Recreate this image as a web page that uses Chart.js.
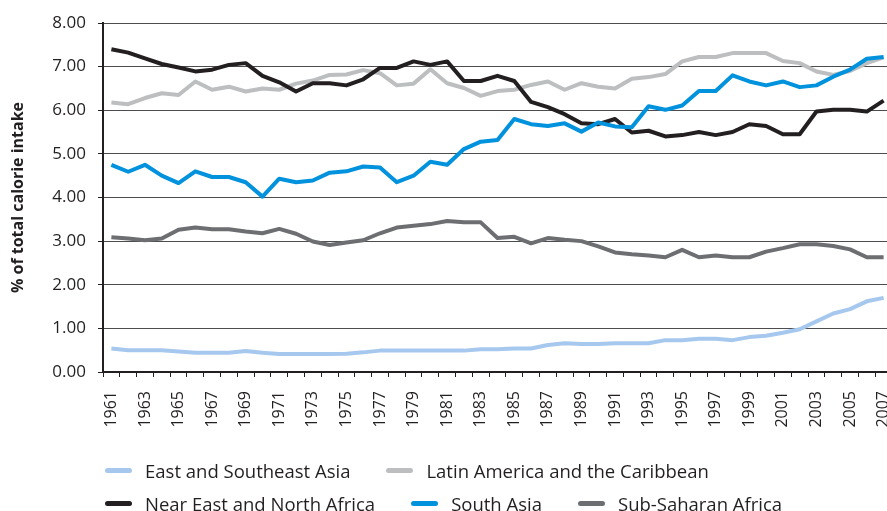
<!DOCTYPE html>
<html>
<head>
<meta charset="utf-8">
<script src="https://cdn.jsdelivr.net/npm/chart.js"></script>
<style>
  html, body { margin: 0; padding: 0; background: #fff; overflow: hidden; }
  #wrap { position: relative; width: 887px; height: 511px; overflow: hidden; }
  #chart { position: absolute; left: 0; top: 0; }
  .legend-row { position: absolute; left: 105px; display: flex; gap: 36px; align-items: center;
    font-family: "Open Sans", sans-serif; font-size: 18.5px; color: #231f20; height: 24px; }
  .legend-item { display: flex; align-items: center; white-space: nowrap; }
  .swatch { width: 27px; height: 5px; border-radius: 3px; margin-right: 13px; }
</style>
</head>
<body>
<div id="wrap">
  <canvas id="chart" width="892" height="511"></canvas>
  <div class="legend-row" id="row1" style="top:458px"></div>
  <div class="legend-row" id="row2" style="top:491px"></div>
</div>
<script>
const years = ['1961','1962','1963','1964','1965','1966','1967','1968','1969','1970',
  '1971','1972','1973','1974','1975','1976','1977','1978','1979','1980',
  '1981','1982','1983','1984','1985','1986','1987','1988','1989','1990',
  '1991','1992','1993','1994','1995','1996','1997','1998','1999','2000',
  '2001','2002','2003','2004','2005','2006','2007'];

const seriesNames = ['East and Southeast Asia', 'Latin America and the Caribbean',
  'Near East and North Africa', 'South Asia', 'Sub-Saharan Africa'];

const eastSoutheastAsia = [0.54, 0.50, 0.50, 0.50, 0.47, 0.44, 0.44, 0.44, 0.48, 0.44,
  0.41, 0.41, 0.41, 0.41, 0.42, 0.45, 0.49, 0.49, 0.49, 0.49,
  0.49, 0.49, 0.52, 0.52, 0.54, 0.54, 0.62, 0.66, 0.64, 0.64,
  0.66, 0.66, 0.66, 0.73, 0.73, 0.76, 0.76, 0.73, 0.80, 0.83,
  0.90, 0.98, 1.16, 1.34, 1.44, 1.62, 1.70];

const latinAmerica = [6.18, 6.14, 6.28, 6.39, 6.35, 6.66, 6.47, 6.54, 6.43, 6.50,
  6.47, 6.61, 6.68, 6.81, 6.82, 6.92, 6.85, 6.57, 6.61, 6.94,
  6.62, 6.51, 6.33, 6.44, 6.47, 6.58, 6.66, 6.47, 6.62, 6.54,
  6.50, 6.72, 6.76, 6.83, 7.12, 7.22, 7.22, 7.31, 7.31, 7.31,
  7.13, 7.08, 6.89, 6.81, 6.90, 7.08, 7.21];

const nearEast = [7.40, 7.32, 7.19, 7.06, 6.98, 6.89, 6.93, 7.04, 7.08, 6.79,
  6.64, 6.43, 6.62, 6.62, 6.57, 6.71, 6.97, 6.97, 7.12, 7.04,
  7.12, 6.67, 6.67, 6.79, 6.67, 6.19, 6.07, 5.91, 5.70, 5.68,
  5.80, 5.49, 5.53, 5.40, 5.43, 5.50, 5.43, 5.50, 5.68, 5.64,
  5.45, 5.45, 5.97, 6.01, 6.01, 5.97, 6.22];

const southAsia = [4.75, 4.59, 4.75, 4.50, 4.33, 4.60, 4.47, 4.47, 4.35, 4.02,
  4.43, 4.35, 4.39, 4.57, 4.60, 4.71, 4.69, 4.35, 4.50, 4.82,
  4.75, 5.11, 5.28, 5.32, 5.80, 5.68, 5.64, 5.70, 5.51, 5.72,
  5.63, 5.61, 6.09, 6.01, 6.11, 6.44, 6.44, 6.80, 6.66, 6.57,
  6.66, 6.53, 6.57, 6.77, 6.93, 7.18, 7.22];

const subSaharanAfrica = [3.09, 3.06, 3.02, 3.06, 3.26, 3.31, 3.27, 3.27, 3.22, 3.18,
  3.28, 3.17, 2.99, 2.91, 2.97, 3.02, 3.18, 3.31, 3.35, 3.39,
  3.46, 3.43, 3.43, 3.07, 3.10, 2.95, 3.07, 3.03, 3.00, 2.88,
  2.74, 2.70, 2.67, 2.63, 2.80, 2.63, 2.67, 2.63, 2.63, 2.76,
  2.84, 2.93, 2.93, 2.89, 2.81, 2.63, 2.63];

const yTicks = [0, 1, 2, 3, 4, 5, 6, 7, 8];

const colors = ['#a6c8ee', '#bcbec0', '#231f20', '#0092dd', '#6d6e71'];
const drawOrder = [1, 5, 3, 2, 4]; // higher = drawn underneath
const allSeries = [eastSoutheastAsia, latinAmerica, nearEast, southAsia, subSaharanAfrica];

const ink = '#231f20';

const datasets = allSeries.map((vals, i) => ({
  label: seriesNames[i],
  data: vals,
  borderColor: colors[i],
  backgroundColor: colors[i],
  borderWidth: 4,
  pointRadius: 0,
  tension: 0,
  fill: false,
  order: drawOrder[i],
  borderJoinStyle: 'round'
}));

new Chart(document.getElementById('chart'), {
  type: 'line',
  data: { labels: years, datasets: datasets },
  options: {
    responsive: false,
    animation: false,
    layout: { padding: { top: 23, left: 0, right: 0, bottom: 0 } },
    plugins: {
      legend: { display: false },
      tooltip: { enabled: false }
    },
    scales: {
      x: {
        type: 'category',
        offset: true,
        afterFit: (scale) => {
          scale.height = 139;
          scale.paddingLeft = 0;
          scale.paddingRight = 0;
        },
        grid: {
          offset: true,
          drawOnChartArea: false,
          drawTicks: true,
          tickLength: 5,
          color: ink,
          lineWidth: 1
        },
        border: { display: true, color: ink, width: 2 },
        ticks: {
          autoSkip: false,
          maxRotation: 90,
          minRotation: 90,
          padding: 14,
          color: ink,
          font: { family: 'Open Sans', size: 16 },
          callback: function (val, idx) { return idx % 2 === 0 ? years[idx] : ''; }
        }
      },
      y: {
        min: yTicks[0],
        max: yTicks[yTicks.length - 1],
        afterFit: (scale) => { scale.width = 103; },
        afterBuildTicks: (scale) => { scale.ticks = yTicks.map(v => ({ value: v })); },
        grid: {
          color: '#4d4d4f',
          borderDash: [2, 3],
          lineWidth: 1,
          tickLength: 5,
          tickColor: ink,
          tickBorderDash: []
        },
        border: { display: true, color: ink, width: 2 },
        ticks: {
          padding: 12,
          color: ink,
          font: { family: 'Open Sans', size: 17 },
          callback: (v) => Number(v).toFixed(2)
        },
        title: {
          display: true,
          text: '% of total calorie intake',
          color: ink,
          font: { family: 'Open Sans', size: 16, weight: 'bold' },
          padding: { top: 9, bottom: 0 }
        }
      }
    }
  }
});

// legend: two rows like the original
const rows = [[0, 1], [2, 3, 4]];
rows.forEach((items, r) => {
  const row = document.getElementById('row' + (r + 1));
  items.forEach(i => {
    const item = document.createElement('div');
    item.className = 'legend-item';
    const sw = document.createElement('span');
    sw.className = 'swatch';
    sw.style.background = colors[i];
    const txt = document.createElement('span');
    txt.textContent = seriesNames[i];
    item.appendChild(sw);
    item.appendChild(txt);
    row.appendChild(item);
  });
});
</script>
</body>
</html>
